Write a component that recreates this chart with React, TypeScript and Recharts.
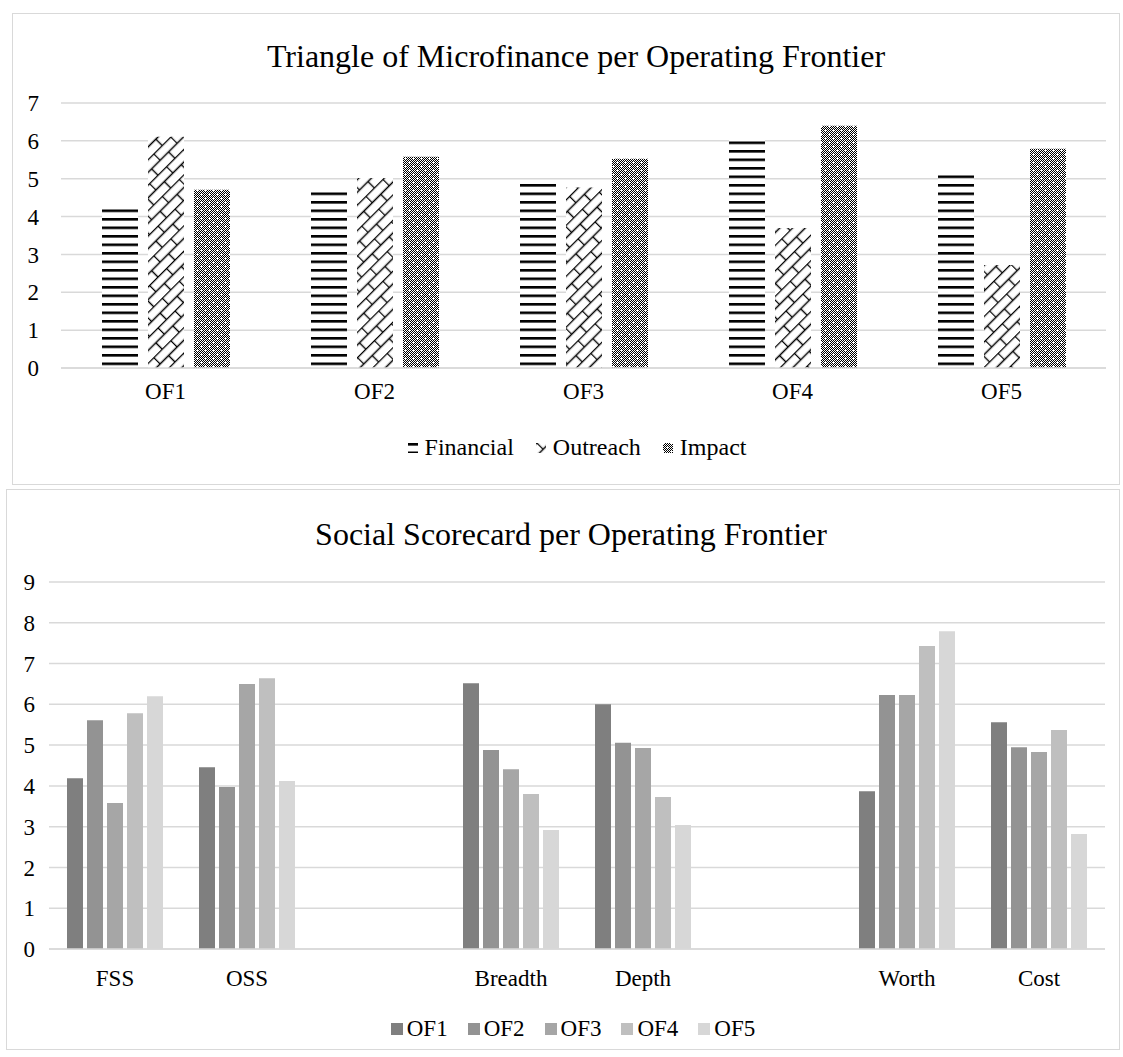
import React from 'react';
import { BarChart, Bar, XAxis, YAxis, CartesianGrid } from 'recharts';

// Triangle of Microfinance per Operating Frontier
const frontiers = ['OF1', 'OF2', 'OF3', 'OF4', 'OF5'];
const financial = [4.26, 4.71, 4.95, 6.06, 5.16];
const outreach = [6.11, 5.02, 4.77, 3.7, 2.72];
const impact = [4.71, 5.58, 5.53, 6.4, 5.79];
const triangleTicks = [0, 1, 2, 3, 4, 5, 6, 7];

// Social Scorecard per Operating Frontier (blank slots keep the gaps)
const indicators = ['FSS', 'OSS', '', 'Breadth', 'Depth', '', 'Worth', 'Cost'];
const of1 = [4.19, 4.46, null, 6.52, 6.0, null, 3.87, 5.56];
const of2 = [5.61, 3.97, null, 4.88, 5.06, null, 6.23, 4.95];
const of3 = [3.58, 6.5, null, 4.41, 4.93, null, 6.23, 4.83];
const of4 = [5.78, 6.64, null, 3.8, 3.73, null, 7.43, 5.37];
const of5 = [6.2, 4.12, null, 2.92, 3.04, null, 7.79, 2.82];
const scorecardTicks = [0, 1, 2, 3, 4, 5, 6, 7, 8, 9];

const triangleRows = frontiers.map((name, i) => ({
  name,
  Financial: financial[i],
  Outreach: outreach[i],
  Impact: impact[i],
}));

const scorecardRows = indicators.map((name, i) => ({
  name,
  OF1: of1[i],
  OF2: of2[i],
  OF3: of3[i],
  OF4: of4[i],
  OF5: of5[i],
}));

const triangleFills = [
  { key: 'Financial', fill: 'url(#pat-financial)' },
  { key: 'Outreach', fill: 'url(#pat-outreach)' },
  { key: 'Impact', fill: 'url(#pat-impact)' },
];

const scorecardFills = [
  { key: 'OF1', fill: '#7f7f7f' },
  { key: 'OF2', fill: '#939393' },
  { key: 'OF3', fill: '#a6a6a6' },
  { key: 'OF4', fill: '#bfbfbf' },
  { key: 'OF5', fill: '#d7d7d7' },
];

const font = '"Liberation Serif", "Times New Roman", serif';
const gridColor = '#d9d9d9';
const tickStyle = { fill: '#000', fontSize: 23, fontFamily: font };

function Patterns() {
  const cells = [];
  for (let y = 0; y < 8; y++) {
    for (let x = 0; x < 8; x++) {
      if ((x + y) % 2 === 0 && !(x === 4 && y === 4) && !(x === 0 && y === 0)) {
        cells.push(<rect key={`${x}-${y}`} x={x} y={y} width={1} height={1} fill="#000" />);
      }
    }
  }
  return (
    <svg width={0} height={0} style={{ position: 'absolute' }}>
      <defs>
        <pattern id="pat-financial" patternUnits="userSpaceOnUse" width={8} height={8.5}>
          <rect width={8} height={8.5} fill="#fff" />
          <rect width={8} height={2.6} fill="#000" />
        </pattern>
        <pattern
          id="pat-outreach"
          patternUnits="userSpaceOnUse"
          width={24}
          height={18}
          patternTransform="rotate(-45)"
        >
          <rect width={24} height={18} fill="#fff" />
          <path
            d="M0 0.5H24 M0 9.5H24 M0.5 0V9.5 M12.5 9.5V18"
            stroke="#000"
            strokeWidth={1.4}
            fill="none"
          />
        </pattern>
        <pattern id="pat-impact" patternUnits="userSpaceOnUse" width={8} height={8}>
          <rect width={8} height={8} fill="#fff" />
          {cells}
        </pattern>
      </defs>
    </svg>
  );
}

function LegendRow({ items, size, gap, iconGap, left, top, width }) {
  return (
    <div
      style={{
        position: 'absolute',
        left,
        top,
        width,
        display: 'flex',
        justifyContent: 'center',
        alignItems: 'center',
        gap,
        fontFamily: font,
        fontSize: size,
        color: '#000',
      }}
    >
      {items.map((it) => (
        <div key={it.key} style={{ display: 'flex', alignItems: 'center', gap: iconGap }}>
          <svg width={it.icon} height={it.icon}>
            <rect width={it.icon} height={it.icon} fill={it.fill} />
          </svg>
          <span>{it.key}</span>
        </div>
      ))}
    </div>
  );
}

function TriangleChart() {
  return (
    <div
      style={{
        position: 'absolute',
        left: 12,
        top: 13,
        width: 1106,
        height: 470,
        border: `1px solid ${gridColor}`,
        background: '#fff',
      }}
    >
      <div
        style={{
          position: 'absolute',
          top: 24,
          left: 10,
          width: '100%',
          textAlign: 'center',
          fontFamily: font,
          fontSize: 32,
          lineHeight: '36px',
        }}
      >
        Triangle of Microfinance per Operating Frontier
      </div>
      <BarChart
        width={1106}
        height={470}
        data={triangleRows}
        margin={{ top: 89, right: 13, left: 0, bottom: 86 }}
        barGap={10}
        barSize={36}
      >
        <CartesianGrid vertical={false} stroke={gridColor} strokeWidth={1.5} />
        <XAxis
          dataKey="name"
          height={30}
          tickLine={false}
          tickSize={0}
          tickMargin={15}
          axisLine={{ stroke: gridColor, strokeWidth: 1.5 }}
          tick={tickStyle}
        />
        <YAxis
          width={48}
          domain={[0, 7]}
          ticks={triangleTicks}
          interval={0}
          axisLine={false}
          tickLine={false}
          tickSize={0}
          tickMargin={22}
          tick={tickStyle}
        />
        {triangleFills.map((s) => (
          <Bar key={s.key} dataKey={s.key} fill={s.fill} isAnimationActive={false} />
        ))}
      </BarChart>
      <LegendRow
        items={triangleFills.map((s) => ({ ...s, icon: 10 }))}
        size={24}
        gap={22}
        iconGap={7}
        left={11}
        top={420}
        width={1106}
      />
    </div>
  );
}

function ScorecardChart() {
  return (
    <div
      style={{
        position: 'absolute',
        left: 6,
        top: 489,
        width: 1112,
        height: 559,
        border: `1px solid ${gridColor}`,
        background: '#fff',
      }}
    >
      <div
        style={{
          position: 'absolute',
          top: 26,
          left: 8,
          width: '100%',
          textAlign: 'center',
          fontFamily: font,
          fontSize: 32,
          lineHeight: '36px',
        }}
      >
        Social Scorecard per Operating Frontier
      </div>
      <BarChart
        width={1112}
        height={559}
        data={scorecardRows}
        margin={{ top: 92, right: 14, left: 0, bottom: 70 }}
        barGap={4}
        barSize={16}
      >
        <CartesianGrid vertical={false} stroke={gridColor} strokeWidth={1.5} />
        <XAxis
          dataKey="name"
          height={30}
          tickLine={false}
          tickSize={0}
          tickMargin={21}
          interval={0}
          axisLine={{ stroke: gridColor, strokeWidth: 1.5 }}
          tick={tickStyle}
        />
        <YAxis
          width={42}
          domain={[0, 9]}
          ticks={scorecardTicks}
          interval={0}
          axisLine={false}
          tickLine={false}
          tickSize={0}
          tickMargin={14}
          tick={tickStyle}
        />
        {scorecardFills.map((s) => (
          <Bar key={s.key} dataKey={s.key} fill={s.fill} isAnimationActive={false} />
        ))}
      </BarChart>
      <LegendRow
        items={scorecardFills.map((s) => ({ ...s, icon: 12 }))}
        size={23}
        gap={20}
        iconGap={4}
        left={10}
        top={526}
        width={1112}
      />
    </div>
  );
}

export default function App() {
  return (
    <div style={{ position: 'absolute', left: 0, top: 0, width: 1123, height: 1057, background: '#fff' }}>
      <Patterns />
      <TriangleChart />
      <ScorecardChart />
    </div>
  );
}
